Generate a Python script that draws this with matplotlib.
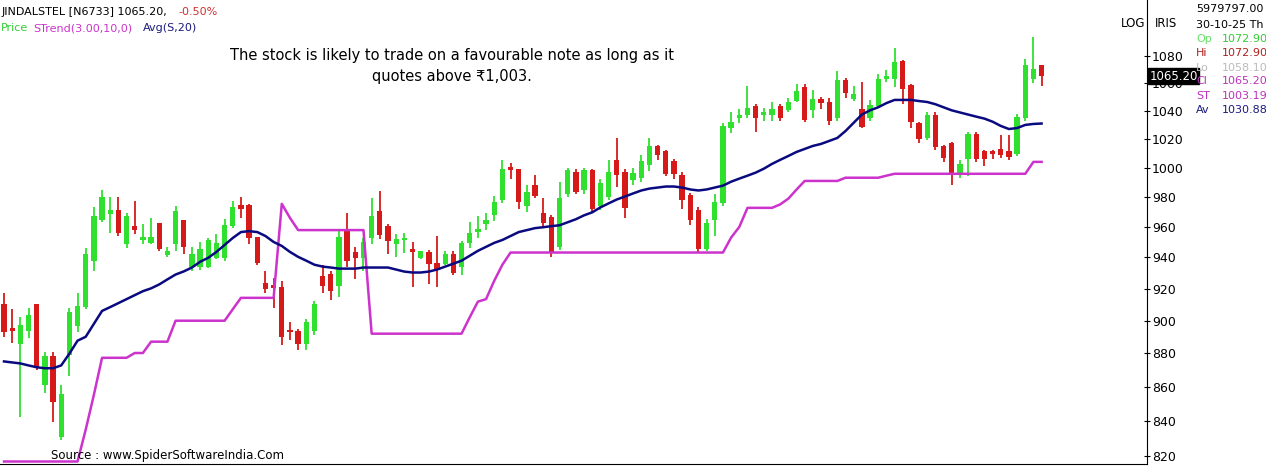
import matplotlib
matplotlib.use("Agg")
import matplotlib.pyplot as plt  # noqa: E402
import numpy as np  # noqa: E402

# daily OHLC (JINDALSTEL)
opens = [910, 895, 886, 894, 910, 861, 878, 831, 879, 897, 909, 938, 965, 969, 971, 949,
         960, 952, 950, 962, 942, 949, 964, 934, 934, 934, 940, 940, 961, 974, 974, 953,
         923, 922, 921, 894, 893, 886, 894, 928, 929, 922, 958, 943, 940, 953, 970, 960,
         949, 952, 945.5, 940, 943, 936, 936, 942, 934, 950, 957, 962, 968, 978, 1000.5, 999,
         974, 988, 969, 966, 947, 982, 997, 985, 998, 974, 980, 1005, 997, 992, 993, 1002,
         1015, 1011, 1004, 995, 981, 971, 945.5, 965, 976, 1028, 1035, 1037, 1043, 1037, 1037, 1043,
         1041, 1047, 1057, 1041, 1048, 1046, 1035, 1062, 1049, 1041, 1035, 1044, 1063, 1063, 1076, 1058,
         1031, 1021, 1037, 1015, 1017, 995, 1006, 1023, 1011, 1011, 1013, 1011, 1010, 1035, 1063, 1072.9]
highs = [917, 907, 902, 908, 910, 881, 881, 861, 908, 917, 946, 973, 985, 980, 980, 969,
         977, 962, 966, 962, 947, 974, 964, 947, 950, 953, 955, 965, 977, 980, 975, 953,
         931, 927, 925, 899, 895, 901, 912, 935, 931, 957, 969, 947, 953, 979, 984, 962,
         955, 956, 950, 944, 945, 954, 944, 944, 951, 963, 967, 969, 981, 1005, 1003, 999,
         988, 995, 979, 968, 990, 1000, 999, 1000, 999, 992, 1005, 1021, 999, 1000, 1009, 1021,
         1016, 1012, 1006, 997, 983, 973, 965, 982, 1031, 1039, 1041, 1058, 1045, 1042, 1046, 1045,
         1049, 1059, 1059, 1055, 1050, 1049, 1069, 1064, 1058, 1061, 1048, 1067, 1070, 1086, 1077, 1059,
         1032, 1039, 1039, 1016, 1018, 1005, 1025, 1025, 1012, 1012, 1023, 1023, 1038, 1078, 1094, 1072.9]
lows = [890, 886, 842, 889, 870, 856, 839, 829, 866, 893, 907, 931, 963, 956, 954, 946,
        955, 949, 949, 944, 940, 944, 942, 931, 932, 933, 939, 938, 959, 966, 949, 935,
        917, 908, 885, 888, 882, 882, 891, 917, 913, 915, 934, 926, 931, 949, 952, 942,
        940, 943, 921, 939, 923, 921, 935, 929, 929, 946, 953, 958, 964, 976, 992, 972,
        970, 979, 959, 940, 945, 980, 982, 982, 970, 971, 978, 987, 966, 988, 990, 998,
        1005, 994, 992, 972, 961, 943, 944, 954, 974, 1024, 1031, 1035, 1025, 1033, 1033, 1033,
        1039, 1046, 1032, 1035, 1041, 1030, 1033, 1049, 1047, 1028, 1033, 1042, 1061, 1057, 1045, 1028,
        1017, 1019, 1012, 1004, 988, 993, 994, 1004, 1001, 1006, 1007, 1005, 1008, 1033, 1060, 1058.1]
closes = [893, 894, 897, 903, 872, 878, 851, 855, 905, 909, 942, 967, 980, 971, 956, 967,
          958, 953, 953, 946, 944, 970, 947, 942, 945, 951, 949, 961, 973, 972, 953, 937,
          920, 921, 890, 893, 886, 899, 910, 922, 919, 953, 938, 940, 950, 967, 955, 951,
          952, 952.5, 943.6, 943.6, 936, 932, 942, 930, 949, 956, 958, 964, 976, 999, 999, 977,
          983, 981, 963, 944, 979, 998, 984, 998, 972, 989, 997, 995, 973, 996, 1004, 1015,
          1009, 996, 996, 978, 965, 945.5, 962, 976, 1029, 1032, 1037, 1042, 1035, 1039, 1041, 1035,
          1046, 1054, 1034, 1048, 1046, 1033, 1062, 1053, 1052, 1029, 1044, 1063, 1065, 1075, 1056, 1032,
          1020, 1037, 1015, 1007, 995, 1002, 1023, 1006, 1006, 1010, 1009, 1008, 1035, 1073, 1070, 1065.2]

# 20-day simple average
avg20 = [875, 874.4, 873.8, 872.6, 871.5, 870.9, 870.9, 872.6, 879.7, 887.6, 890, 898, 906, 908.4, 910.9, 913.4,
         915.9, 918.4, 920.2, 922.7, 925.9, 929, 931, 933.5, 937.2, 939.8, 943.6, 948.1, 952.7, 956.6, 957.2, 956.6,
         954, 950.1, 947.5, 943.6, 940.4, 937.9, 935.3, 934.1, 933.5, 932.8, 932.8, 932.8, 933.5, 933.5, 933.5, 933.5,
         932.2, 930.9, 930.3, 930.3, 930.9, 932.2, 934.1, 936, 937.9, 941.1, 944.3, 946.9, 949.5, 951.4, 954, 956.6,
         957.9, 959.2, 959.8, 960.5, 961.1, 963.1, 965.1, 967.7, 969.7, 973, 975.7, 978.3, 980.3, 982.4, 984.4, 985.7,
         986.4, 987.1, 987.1, 986.4, 985.1, 984.4, 985.1, 986.4, 987.7, 990.4, 992.5, 994.5, 996.6, 999.3, 1002.6, 1005.4,
         1008.1, 1010.9, 1013, 1015.1, 1016.5, 1018.6, 1020.7, 1025.6, 1031.4, 1037.3, 1040.3, 1042.5, 1045.5, 1047.8, 1047.8, 1047.8,
         1047, 1046.3, 1044.7, 1042.5, 1040.3, 1038.8, 1037.3, 1035.8, 1034.4, 1032.2, 1029.2, 1027, 1027.7, 1029.9, 1030.6, 1030.9]

# SuperTrend(3,10)
strend = [816.7] * 10 + [834.8, 855.1] + [877.2] * 4 + [880.1] * 2 + [887] * 3 + [899.9] * 7 + [907] \
    + [914.2] * 5 + [975.4, 966] + [957.9] * 9 + [891.9] * 12 + [902, 911.8, 913.4, 925, 935.3] \
    + [943.2] * 27 + [953, 960] + [972.7] * 4 + [975, 978.9, 985] + [990.9] * 5 + [993.1] * 5 \
    + [994.5] + [995.8] * 17 + [1004, 1004]

GREEN = "#2fe02f"
RED = "#d61a1a"

fig = plt.figure(figsize=(12.66, 4.71), dpi=100)
ax = fig.add_axes([0, 0.0149, 0.906, 0.9851])

idx = np.arange(len(closes))
o = np.array(opens); c = np.array(closes); h = np.array(highs); lo = np.array(lows)
up = c >= o
colors = np.where(up, GREEN, RED)
ax.vlines(idx, lo, h, colors=colors, lw=1.3, zorder=2)
ax.bar(idx, np.abs(c - o) + 0.6, bottom=np.minimum(o, c) - 0.3, width=0.65,
       color=colors, edgecolor="none", zorder=3)

ax.plot(idx, strend, color="#cc33cc", lw=1.8, zorder=4)
ax.plot(idx, avg20, color="#0a0a80", lw=1.8, zorder=5)

ax.set_yscale("log")
ax.set_ylim(815.3, 1122.5)
ax.set_xlim(-0.49, 139.9)

ticks = list(range(820, 1081, 20))
ax.yaxis.tick_right()
ax.yaxis.set_minor_locator(matplotlib.ticker.NullLocator())
ax.set_yticks(ticks)
ax.set_yticklabels([str(t) for t in ticks], fontsize=9)
ax.tick_params(axis="y", direction="inout", length=5, pad=1)
ax.set_xticks([])
for s in ("top", "left"):
    ax.spines[s].set_visible(False)

# last price marker
ax.text(1.002, np.log(1065.2 / 815.3) / np.log(1122.5 / 815.3), "1065.20",
        transform=ax.transAxes, fontsize=8.5, color="white", va="center", ha="left",
        bbox=dict(boxstyle="square,pad=0.1", fc="black", ec="black"))

fs = 8
fig.text(0.001, 0.985, "JINDALSTEL [N6733] 1065.20,", fontsize=fs, va="top")
fig.text(0.141, 0.985, "-0.50%", fontsize=fs, va="top", color="#d03030")
fig.text(0.001, 0.951, "Price", fontsize=fs, va="top", color="#33cc33")
fig.text(0.026, 0.951, "STrend(3.00,10,0)", fontsize=fs, va="top", color="#cc33cc")
fig.text(0.113, 0.951, "Avg(S,20)", fontsize=fs, va="top", color="#1a1a80")

fig.text(0.357, 0.86, "The stock is likely to trade on a favourable note as long as it\nquotes above \u20b91,003.",
         fontsize=10.5, ha="center", va="center", linespacing=1.5)
fig.text(0.04, 0.033, "Source : www.SpiderSoftwareIndia.Com", fontsize=8.5, va="center")

fig.text(0.885, 0.95, "LOG", fontsize=8.5, va="center")
fig.text(0.912, 0.95, "IRIS", fontsize=8.5, va="center")

rx = 0.945
rows = [("5979797.00", "", "black", "black"),
        ("30-10-25 Th", "", "black", "black"),
        ("Op", "1072.90", "#66dd66", "#33cc33"),
        ("Hi", "1072.90", "#b02020", "#b02020"),
        ("Lo", "1058.10", "#bbbbbb", "#bbbbbb"),
        ("Cl", "1065.20", "#bb33bb", "#bb33bb"),
        ("ST", "1003.19", "#bb33bb", "#bb33bb"),
        ("Av", "1030.88", "#1a1a80", "#1a1a80")]
ys = [9, 25, 39, 53, 68, 81, 96, 110]
for (lab, val, c1, c2), yy in zip(rows, ys):
    fy = 1 - yy / 471
    fig.text(rx, fy, lab, fontsize=fs, color=c1, va="center")
    if val:
        fig.text(rx + 0.0205, fy, val, fontsize=fs, color=c2, va="center")

fig.savefig("out.png", dpi=100)
